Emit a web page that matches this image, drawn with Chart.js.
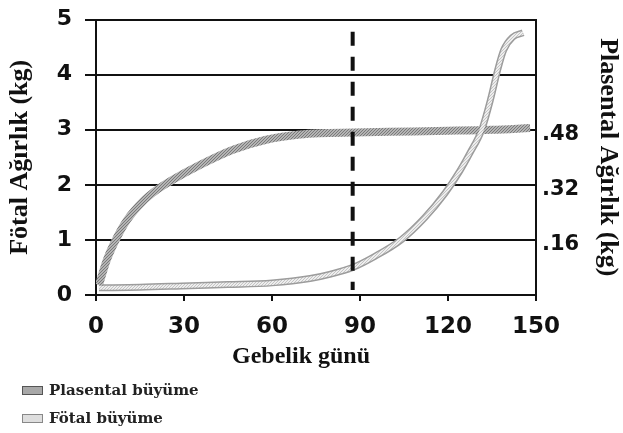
<!DOCTYPE html>
<html>
<head>
<meta charset="utf-8">
<script src="https://cdn.jsdelivr.net/npm/chart.js@4"></script>
<style>
body{margin:0;background:#fff}
#wrap{position:relative;width:623px;height:433px}
#legend{position:absolute;left:22px;top:376px;font:bold 15px 'DejaVu Serif',serif;color:#222}
.li{display:flex;align-items:center;height:28px}
.sw{width:19px;height:7px;margin-right:6px;border:1px solid #555}
</style>
</head>
<body>
<div id="wrap">
  <canvas id="c" width="623" height="433"></canvas>
  <div id="legend">
    <div class="li"><span class="sw" style="background:#a8a8a8"></span>Plasental büyüme</div>
    <div class="li"><span class="sw" style="background:#dedede;border-color:#888"></span>Fötal büyüme</div>
  </div>
</div>
<script>
// ===== DATA =====
const placentaDays = [1, 3.7, 7.2, 10.6, 16, 21, 26, 35.5, 46.7, 58, 69.5, 76, 88, 100, 120, 135, 148];
const placentaKg   = [0.029, 0.102, 0.168, 0.218, 0.272, 0.307, 0.334, 0.378, 0.422, 0.451, 0.466, 0.470, 0.472, 0.474, 0.477, 0.480, 0.485];
const fetalDays    = [1, 15, 32, 45, 60, 73, 80, 87.5, 95, 104, 112, 119, 124, 127.5, 131.5, 134.5, 137, 139, 142, 145.6];
const fetalKg      = [0.13, 0.14, 0.17, 0.19, 0.22, 0.30, 0.38, 0.50, 0.70, 1.0, 1.4, 1.85, 2.25, 2.58, 3.0, 3.55, 4.1, 4.45, 4.68, 4.76];
const markerDay  = 87.5;
const markerSpan = [0.09, 4.78];
const rightTicks = [0.16, 0.32, 0.48];

// ===== HELPERS =====
function pts(xs, ys){ return xs.map((x,i)=>({x, y:ys[i]})); }
function dots(bg, fg){
  const c=document.createElement('canvas'); c.width=c.height=3;
  const g=c.getContext('2d');
  g.fillStyle=bg; g.fillRect(0,0,3,3);
  g.fillStyle=fg; g.fillRect(0,0,1,1); g.fillRect(2,1,1,1); g.fillRect(1,2,1,1);
  return g.createPattern(c,'repeat');
}
// lineHeight kecil supaya label "5" tidak menambah padding atas
const tickFont  = {family:"'DejaVu Sans', sans-serif", size:22, weight:'bold', lineHeight:0.6};
const titleFont = {family:"'Liberation Serif', 'Times New Roman', serif", size:26, weight:'bold'};

// ===== CHART =====
new Chart(document.getElementById('c').getContext('2d'), {
  type:'line',
  data:{datasets:[
    {label:'Plasental büyüme', data:pts(placentaDays, placentaKg), yAxisID:'y1',
     borderColor:dots('#b4b4b4','#7a7a7a'), borderWidth:8, pointRadius:0,
     cubicInterpolationMode:'monotone', order:2},
    {label:'Fötal kenar', data:pts(fetalDays, fetalKg), yAxisID:'y',
     borderColor:'#9c9c9c', borderWidth:7, pointRadius:0,
     cubicInterpolationMode:'monotone', order:3},
    {label:'Fötal büyüme', data:pts(fetalDays, fetalKg), yAxisID:'y',
     borderColor:dots('#eeeeee','#c4c4c4'), borderWidth:4, pointRadius:0,
     cubicInterpolationMode:'monotone', order:1},
    {label:'marker', data:[{x:markerDay,y:markerSpan[1]},{x:markerDay,y:markerSpan[0]}], yAxisID:'y',
     borderColor:'#111', borderWidth:4, borderDash:[14,11], pointRadius:0, order:0}
  ]},
  options:{
    responsive:false, animation:false,
    layout:{padding:{top:0, bottom:62, left:0, right:0}},
    plugins:{legend:{display:false}, tooltip:{enabled:false}},
    scales:{
      x:{type:'linear', min:0, max:150,
         ticks:{stepSize:30, color:'#111', font:{...tickFont, size:23, lineHeight:1.2}, padding:12, maxRotation:0},
         grid:{drawOnChartArea:false, color:'#111', lineWidth:2, tickLength:6},
         border:{color:'#111', width:2},
         title:{display:true, text:'Gebelik günü\u00a0\u00a0\u00a0\u00a0\u00a0', color:'#111', font:{...titleFont, size:24}, padding:{top:0,bottom:0}},
         afterFit:s=>{s.height=76;}},
      y:{position:'left', min:0, max:5,
         ticks:{stepSize:1, color:'#111', font:tickFont, padding:13},
         grid:{color:'#111', lineWidth:2, tickLength:11},
         border:{color:'#111', width:2},
         title:{display:true, text:'Fötal Ağırlık (kg)', color:'#111', font:titleFont, padding:{top:5,bottom:0}},
         afterFit:s=>{s.width=96;}},
      y1:{position:'right', min:0, max:0.8,
         afterBuildTicks:s=>{s.ticks=rightTicks.map(v=>({value:v}));},
         ticks:{color:'#111', font:{...tickFont, size:21}, padding:6, labelOffset:5,
                callback:v=>v.toFixed(2).replace(/^0/,'')},
         grid:{drawOnChartArea:false, drawTicks:false},
         border:{color:'#111', width:2},
         title:{display:true, text:'Plasental Ağırlık (kg)', color:'#111', font:titleFont, padding:{top:0,bottom:0}},
         afterFit:s=>{s.width=87;}}
    }
  }
});
</script>
</body>
</html>
